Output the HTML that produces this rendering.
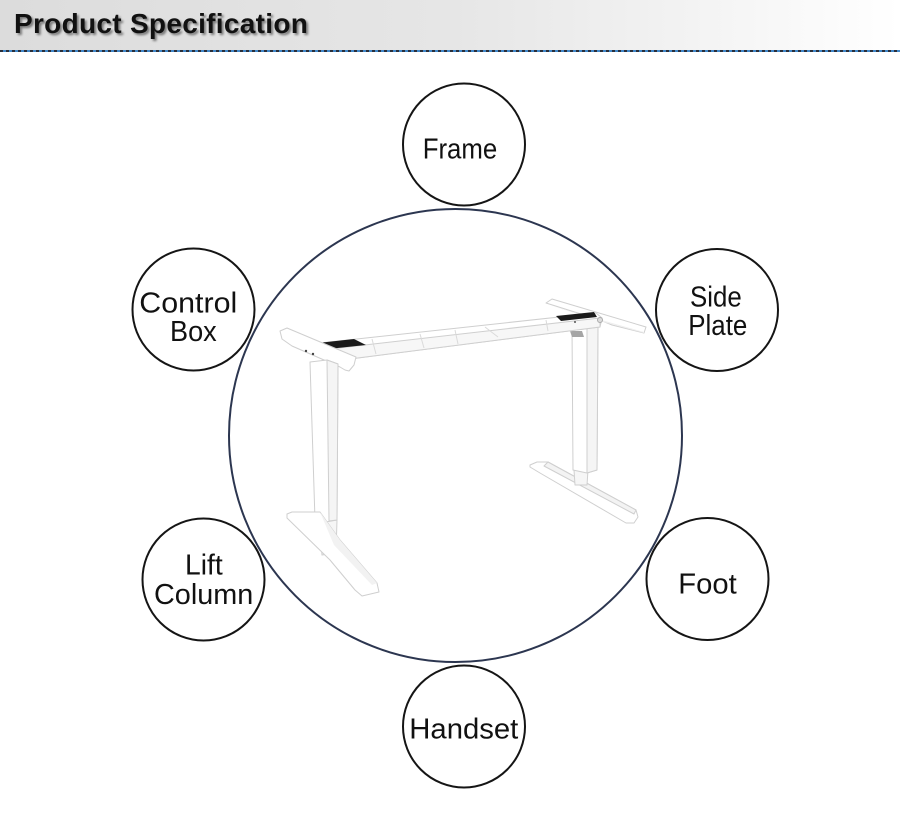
<!DOCTYPE html>
<html>
<head>
<meta charset="utf-8">
<style>
  html,body{margin:0;padding:0;background:#fff;}
  body{width:900px;height:830px;position:relative;overflow:hidden;}
  .title{position:absolute;left:14px;top:8px;font-family:"Liberation Sans",Arial,sans-serif;font-weight:bold;font-size:28px;color:#111;text-shadow:2px 2px 2px rgba(0,0,0,0.45);white-space:nowrap;letter-spacing:0.3px;}
  svg{position:absolute;left:0;top:0;}
</style>
</head>
<body>
<svg width="900" height="830" viewBox="0 0 900 830" xmlns="http://www.w3.org/2000/svg">
  <defs>
    <linearGradient id="hdr" x1="0" y1="0" x2="1" y2="0">
      <stop offset="0" stop-color="#dcdcdc"/>
      <stop offset="0.5" stop-color="#e6e6e6"/>
      <stop offset="0.75" stop-color="#f2f2f2"/>
      <stop offset="1" stop-color="#ffffff"/>
    </linearGradient>
    <pattern id="dash" x="0" y="0" width="6" height="2" patternUnits="userSpaceOnUse">
      <rect x="0" y="0" width="3" height="2" fill="#2a2f3a"/>
      <rect x="3" y="0" width="3" height="2" fill="#3f86c8"/>
    </pattern>
  </defs>

  <!-- header -->
  <rect x="0" y="0" width="900" height="50" fill="url(#hdr)"/>
  <rect x="0" y="50" width="900" height="2" fill="url(#dash)"/>

  <!-- big circle -->
  <circle cx="455.5" cy="435.5" r="226.5" fill="#fff" stroke="#2c3650" stroke-width="2"/>

  <!-- desk frame -->
  <g stroke="#cfcfcf" stroke-width="1" stroke-linejoin="round">
    <!-- right foot -->
    <polygon points="530,465 537,462 548,462 636,510 638,517 634,523 626,523 540,473 530,467" fill="#ffffff"/>
    <polygon points="548,462 636,510 634,514 544,466" fill="#f3f3f3"/>
    <!-- right column -->
    <polygon points="574,470 588,470 587,485 575,485" fill="#f6f6f6"/>
    <polygon points="572,327 598,324 597,470 587,473 573,470" fill="#ffffff"/>
    <polygon points="587,326 598,324 597,470 587,473" fill="#f5f5f5"/>
    <polygon points="570,331 582,331 584,337 572,337" fill="#a5a5a5" stroke="none"/>
    <!-- right side plate -->
    <polygon points="546,303 552,299 646,327 644,333 612,325 600,320" fill="#ffffff"/>
    <polygon points="552,306 644,332 644,333 600,321" fill="#efefef" stroke="none"/>
    <!-- main beam -->
    <polygon points="320,343 596,313 602,318 600,327 350,359 344,358 330,349" fill="#ffffff"/>
    <polygon points="330,349 600,318 600,327 350,359" fill="#f7f7f7"/>
    <line x1="372" y1="339" x2="376" y2="354" stroke="#dadada"/>
    <line x1="420" y1="334" x2="424" y2="348" stroke="#dadada"/>
    <line x1="455" y1="330" x2="458" y2="344" stroke="#dadada"/>
    <line x1="485" y1="327" x2="498" y2="337" stroke="#dadada"/>
    <line x1="546" y1="320" x2="548" y2="331" stroke="#dadada"/>
    <!-- black pads -->
    <polygon points="318,343 354,339 366,345 328,349" fill="#1b1b1b" stroke="none"/>
    <polygon points="556,316 594,312 597,317 561,321" fill="#1b1b1b" stroke="none"/>
    <circle cx="575" cy="322" r="1" fill="#555" stroke="none"/>
    <circle cx="600" cy="320" r="2.5" fill="#ddd" stroke="#aaa"/>
    <!-- left side plate -->
    <polygon points="280,331 287,328 356,357 354,365 349,371 345,370 340,367 292,346 282,339" fill="#ffffff"/>
    <circle cx="306" cy="351" r="1.2" fill="#444" stroke="none"/>
    <circle cx="313" cy="354" r="1.2" fill="#444" stroke="none"/>
    <!-- left column -->
    <polygon points="319,520 337,520 336,553 322,555" fill="#f6f6f6"/>
    <polygon points="310,362 327,360 338,364 337,520 320,523 315,520" fill="#ffffff"/>
    <polygon points="327,360 338,364 337,520 329,521" fill="#f5f5f5"/>
    <!-- left foot -->
    <polygon points="287,514 292,512 320,512 340,540 377,583 379,592 362,596 355,590 330,560 287,518" fill="#ffffff"/>
    <polygon points="320,512 340,540 377,583 372,585 334,545" fill="#f2f2f2" stroke="none"/>
  </g>

  <!-- small circles -->
  <g fill="#fff" stroke="#151515" stroke-width="2">
    <circle cx="464" cy="144.5" r="61"/>
    <circle cx="193.5" cy="309.5" r="61"/>
    <circle cx="717" cy="310" r="61"/>
    <circle cx="203.5" cy="579.5" r="61"/>
    <circle cx="707.5" cy="579" r="61"/>
    <circle cx="464" cy="726.5" r="61"/>
  </g>

  <!-- labels -->
  <g font-family="'Liberation Sans', Arial, sans-serif" font-size="29" fill="#111">
    <text x="422.7" y="158.3" textLength="74.6" lengthAdjust="spacingAndGlyphs">Frame</text>
    <text x="139.3" y="312.3" textLength="98" lengthAdjust="spacingAndGlyphs">Control</text>
    <text x="170" y="341" textLength="46.7" lengthAdjust="spacingAndGlyphs">Box</text>
    <text x="690" y="306.7" textLength="51.7" lengthAdjust="spacingAndGlyphs">Side</text>
    <text x="688.3" y="335" textLength="59" lengthAdjust="spacingAndGlyphs">Plate</text>
    <text x="185" y="574.3" textLength="37.7" lengthAdjust="spacingAndGlyphs">Lift</text>
    <text x="154" y="604" textLength="99.3" lengthAdjust="spacingAndGlyphs">Column</text>
    <text x="678.3" y="593.3" textLength="58.4" lengthAdjust="spacingAndGlyphs">Foot</text>
    <text x="409.3" y="738.3" textLength="109" lengthAdjust="spacingAndGlyphs">Handset</text>
  </g>
</svg>
<div class="title">Product Specification</div>
</body>
</html>
